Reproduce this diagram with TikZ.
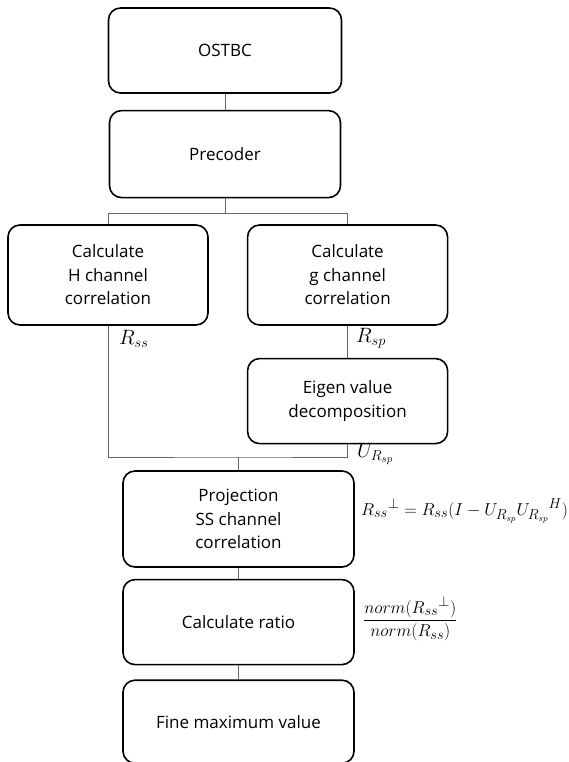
\documentclass[tikz,border=0pt]{standalone}
\usepackage{amsmath}
\usepackage{fontspec}
\setsansfont{Open Sans}
\usetikzlibrary{positioning}

\begin{document}
\begin{tikzpicture}[x=1pt, y=-1pt, node distance=16pt,
    box/.style={rectangle, draw, line width=1.6pt, rounded corners=12pt, align=center, inner sep=0pt,
        font=\sffamily\fontsize{17}{23.5}\selectfont},
    line/.style={draw, black!60, line width=0.8pt},
    lbl/.style={inner sep=0pt, font=\fontsize{22}{24}\selectfont}]

    \useasboundingbox (0,0) rectangle (569,762);

    \node [box, minimum width=233pt, minimum height=85pt] (ostbc) at (225,50.5) {OSTBC};
    \node [box, minimum width=231pt, minimum height=87pt, below=of ostbc] (precoder) {Precoder};

    \node [box, minimum width=200pt, minimum height=100pt] (hcorr) at (108,275) {Calculate\\H channel\\correlation};
    \node [box, minimum width=200pt, minimum height=100pt, right=38pt of hcorr] (gcorr) {Calculate\\g channel\\correlation};
    \node [box, minimum width=200pt, minimum height=85pt, below=32pt of gcorr] (eigen) {Eigen value\\decomposition};

    \node [box, minimum width=231pt, minimum height=96pt] (proj) at (238.5,519) {Projection\\SS channel\\correlation};
    \node [box, minimum width=231pt, minimum height=85pt, below=11pt of proj] (ratio) {Calculate ratio};
    \node [box, minimum width=231pt, minimum height=83pt, below=14pt of ratio] (fine) {Fine maximum value};

    % signal labels
    \node [lbl, anchor=north west] (rss) at (119,330) {$R_{ss}$};
    \node [lbl, anchor=north west] (rsp) at (356,328) {$R_{sp}$};
    \node [lbl, anchor=north west] (urs) at (357,443) {$U_{R_{sp}}$};
    \node [lbl, anchor=west, font=\fontsize{19}{22}\selectfont] (perp) at (361,511) {$R_{ss}{}^{\perp} = R_{ss}(I - U_{R_{sp}} U_{R_{sp}}{}^{H})$};
    \node [lbl, anchor=west, font=\fontsize{19}{22}\selectfont] (frac) at (363,619) {$\dfrac{norm(R_{ss}{}^{\perp})}{norm(R_{ss})}$};

    % connectors
    \draw [line] (ostbc) -- (precoder);
    \draw [line] (precoder.south) -- ++(0,15) coordinate (split);
    \draw [line] (hcorr.north) |- (split) -| (gcorr.north);
    \draw [line] (gcorr) -- (eigen);
    \coordinate (merge) at (238.5,457);
    \draw [line] (hcorr.south) |- (merge) -| (eigen.south);
    \draw [line] (merge) -- (proj);
    \draw [line] (proj) -- (ratio);
    \draw [line] (ratio) -- (fine);

\end{tikzpicture}
\end{document}
